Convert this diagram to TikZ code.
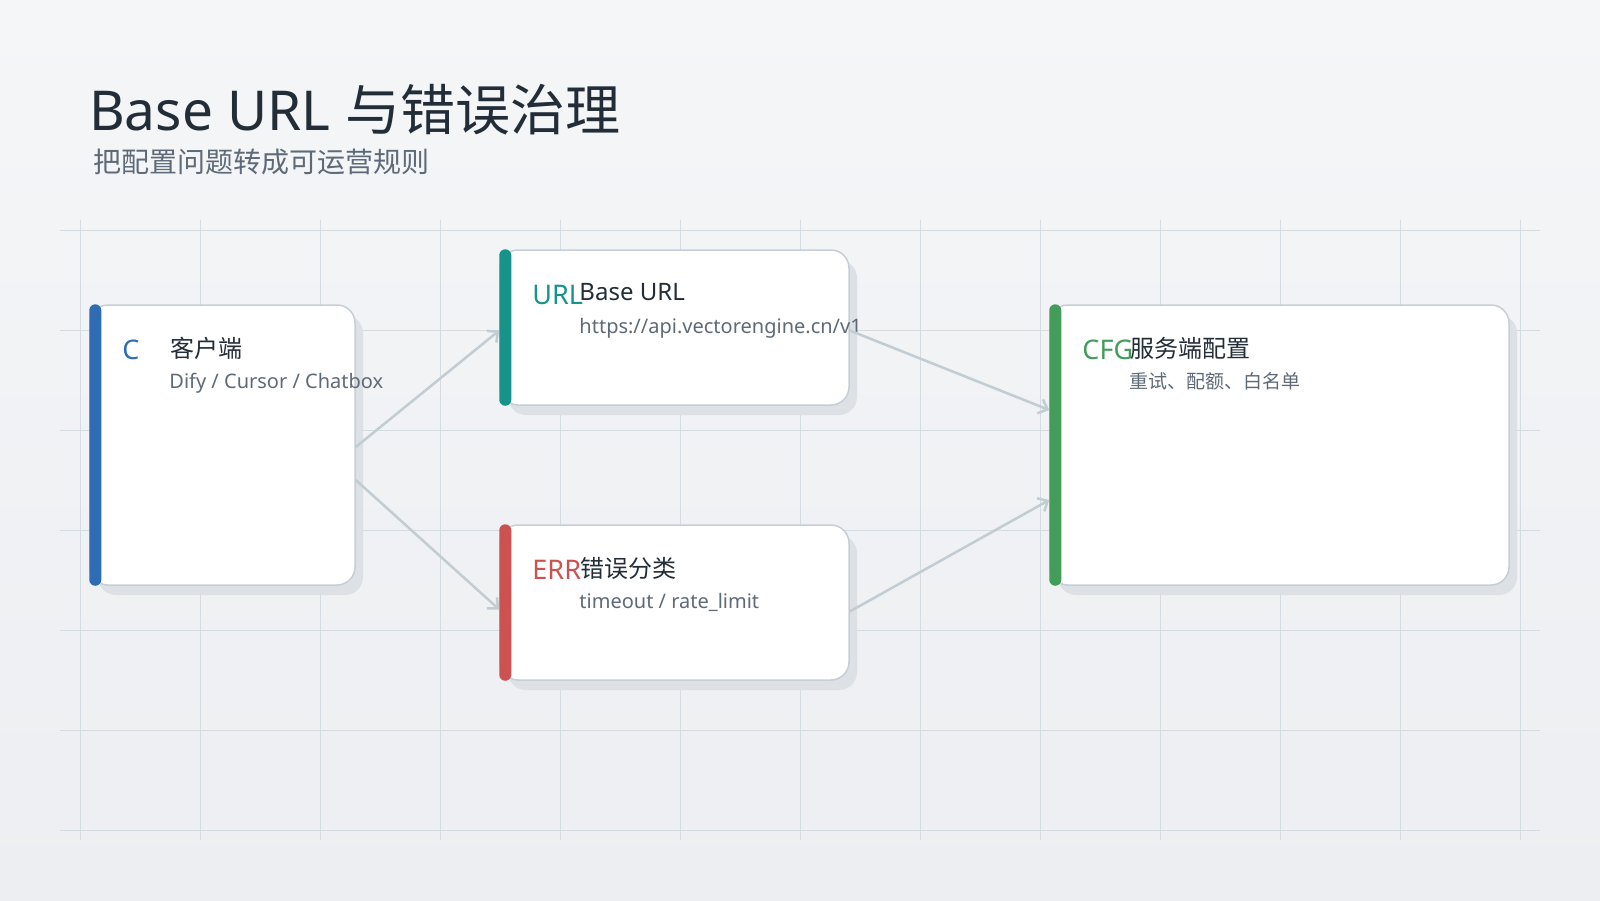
\documentclass[tikz,border=0pt]{standalone}
\usepackage{fontspec}
\setmainfont{Noto Sans CJK SC}
\newfontfamily\latinfont{Noto Sans}
\usetikzlibrary{arrows.meta,positioning,calc,shadows}
\definecolor{bgtop}{HTML}{F5F6F8}
\definecolor{bgbottom}{HTML}{ECEEF1}
\definecolor{gridline}{HTML}{D5DCE1}
\definecolor{cardline}{HTML}{C6CFD7}
\definecolor{cardshadow}{HTML}{DDE0E4}
\definecolor{flowgray}{HTML}{C2CCD3}
\definecolor{ink}{HTML}{222D38}
\definecolor{inkgray}{HTML}{5E6A77}
\definecolor{accentblue}{HTML}{2F6CB3}
\definecolor{accentteal}{HTML}{17938A}
\definecolor{accentred}{HTML}{CC5252}
\definecolor{accentgreen}{HTML}{449C5A}

\begin{document}
\begin{tikzpicture}[x=1pt,y=-1pt,
    card/.style={rectangle,rounded corners=18pt,fill=white,draw=cardline,line width=1.5pt,inner sep=0pt,
      general shadow={fill=cardshadow,shadow xshift=8pt,shadow yshift=-10pt}},
    icontext/.style={anchor=base west,inner sep=0pt,font=\latinfont\fontsize{27}{32}\selectfont},
    titletext/.style={anchor=base west,inner sep=0pt,text=ink,font=\fontsize{24}{28}\selectfont},
    subtext/.style={anchor=base west,inner sep=0pt,text=inkgray,font=\fontsize{19}{23}\selectfont},
    latinsub/.style={subtext,font=\latinfont\fontsize{20}{24}\selectfont},
    flow/.style={draw=flowgray,line width=2.5pt,-{Straight Barb[length=8pt,width=15pt]}}]
  \useasboundingbox (0,0) rectangle (1600,900);
  \shade[top color=bgtop,bottom color=bgbottom] (0,0) rectangle (1600,900);

  % grid
  \foreach \gx in {80,200,...,1520}
    \draw[gridline,line width=1pt] (\gx,220) -- (\gx,840);
  \foreach \gy in {230,330,...,830}
    \draw[gridline,line width=1pt] (60,\gy) -- (1540,\gy);

  % heading
  \node[anchor=base west,inner sep=0pt,text=ink,font=\fontsize{55}{60}\selectfont] (title) at (89,130) {{\latinfont Base URL }与错误治理};
  \node[anchor=base west,inner sep=0pt,text=inkgray,font=\fontsize{28}{32}\selectfont] (subtitle) at (93,172) {把配置问题转成可运营规则};

  % cards
  \node[card,minimum width=265pt,minimum height=280pt] (client) at (222.5,445) {};
  \node[card,minimum width=349pt,minimum height=155pt] (url) at (674.5,327.5) {};
  \node[card,minimum width=349pt,minimum height=155pt] (err) at (674.5,602.5) {};
  \node[card,minimum width=459pt,minimum height=280pt] (cfg) at (1279.5,445) {};
  \foreach \n/\c in {client/accentblue,url/accentteal,err/accentred,cfg/accentgreen}
    \fill[\c,rounded corners=6pt] (\n.north west) rectangle ($(\n.south west)+(12,0)$);

  % card texts
  \node[icontext,text=accentblue] (clienticon) at ($(client.north west)+(33,55)$) {C};
  \node[titletext] (clienttitle) at ($(client.north west)+(81,53)$) {客户端};
  \node[latinsub] (clientsub) at ($(client.north west)+(80,84)$) {Dify / Cursor / Chatbox};

  \node[icontext,text=accentteal] (urlicon) at ($(url.north west)+(33,55)$) {URL};
  \node[titletext] (urltitle) at ($(url.north west)+(80,51)$) {\latinfont Base URL};
  \node[latinsub] (urlsub) at ($(url.north west)+(80,84)$) {https://api.vectorengine.cn/v1};

  \node[icontext,text=accentred] (erricon) at ($(err.north west)+(33,55)$) {ERR};
  \node[titletext] (errtitle) at ($(err.north west)+(81,53)$) {错误分类};
  \node[latinsub] (errsub) at ($(err.north west)+(80,84)$) {timeout / rate\_limit};

  \node[icontext,text=accentgreen] (cfgicon) at ($(cfg.north west)+(33,55)$) {CFG};
  \node[titletext] (cfgtitle) at ($(cfg.north west)+(81,53)$) {服务端配置};
  \node[subtext] (cfgsub) at ($(cfg.north west)+(80,84)$) {重试、配额、白名单};

  % connectors
  \draw[flow] ($(client.east)+(0,2)$) -- ($(url.west)+(0,3)$);
  \draw[flow] ($(client.east)+(0,35)$) -- ($(err.west)+(0,7)$);
  \draw[flow] ($(url.east)+(0,3)$) -- ($(cfg.west)+(0,-35)$);
  \draw[flow] ($(err.east)+(0,9)$) -- ($(cfg.west)+(0,55)$);
\end{tikzpicture}
\end{document}
